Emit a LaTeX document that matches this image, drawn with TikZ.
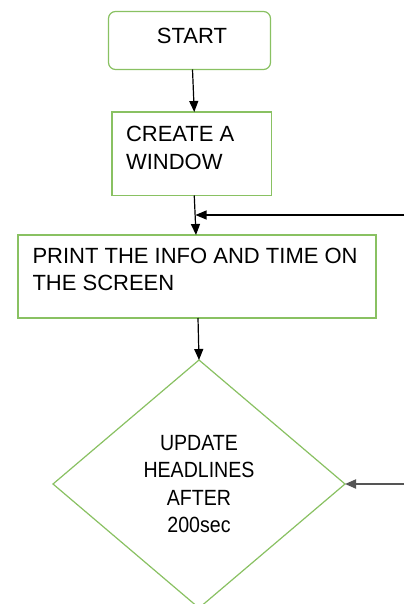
\documentclass[tikz,border=0pt]{standalone}
\usepackage{fontspec}
\setmainfont{Liberation Sans}
\newfontfamily\boxfont{Liberation Sans}
\newfontfamily\diafont[FakeStretch=0.89]{Liberation Sans}
\usetikzlibrary{shapes.geometric,arrows.meta,calc}
\definecolor{boxgreen}{RGB}{137,193,98}
\definecolor{fbgray}{RGB}{85,85,85}
\begin{document}
\begin{tikzpicture}[x=1pt,y=-1pt,
  box/.style={draw=boxgreen, line width=1.2pt, fill=white, inner sep=0pt, outer sep=0pt},
  txt/.style={font=\boxfont\fontsize{22}{27}\selectfont, text=black, inner sep=0pt, outer sep=0pt, align=left},
  diatxt/.style={font=\diafont\fontsize{22}{27.3}\selectfont, text=black, align=center},
  arr/.style={draw=black, line width=1.2pt, -{Triangle[length=11pt,width=9pt]}},
]
\clip (0,0) rectangle (404,604);
\fill[white] (0,0) rectangle (404,604);
% boxes
\node[box, rounded corners=7pt, minimum width=162pt, minimum height=58pt,
      label={[txt, shift={(2.5pt,5pt)}]center:START}] (start) at (189.5,40.5) {};
\node[box, minimum width=159.5pt, minimum height=83.5pt,
      label={[txt, font=\boxfont\fontsize{22}{28}\selectfont, anchor=north west, shift={(14pt,-14pt)}]north west:CREATE A\\WINDOW}] (create) at (191.75,153.75) {};
\node[box, minimum width=358pt, minimum height=83pt,
      label={[txt, anchor=north west, shift={(14.5pt,-13.5pt)}]north west:PRINT THE INFO AND TIME ON\\THE SCREEN}] (print) at (197,276.5) {};
\node[box, diamond, aspect=1.18, minimum width=292pt, minimum height=248pt, diatxt] (upd) at (199,484)
      {UPDATE\\HEADLINES\\AFTER\\200sec};
% free ends
\coordinate (fb1) at (404,215);
\coordinate (j1) at (195.5,215);
\coordinate (fb2) at (404,484);
% connectors
\draw[arr] ([xshift=3pt]start.south) -- ([xshift=2.5pt]create.north);
\draw[arr] ([xshift=2.5pt]create.south) -- ([xshift=-1pt]print.north);
\draw[arr] (fb1) -- (j1);
\draw[arr] ([xshift=1pt]print.south) -- (upd.north);
\draw[arr, draw=fbgray, line width=1.8pt] (fb2) -- (upd.east);
\end{tikzpicture}
\end{document}
